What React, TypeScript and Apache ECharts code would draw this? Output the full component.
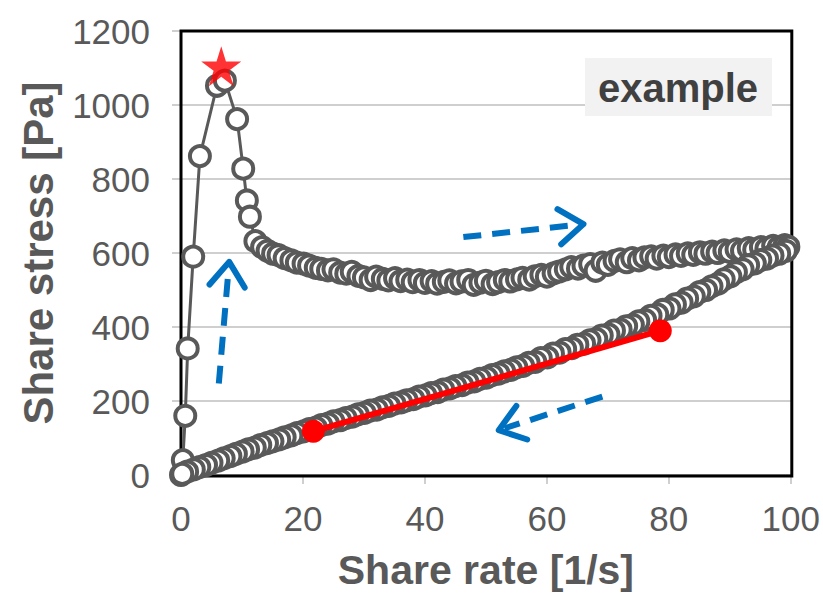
import React, { useEffect, useRef } from "react";
import * as echarts from "echarts";

// ---- data ----
const xTicks = [0, 20, 40, 60, 80, 100];
const yTicks = [0, 200, 400, 600, 800, 1000, 1200];

// upward sweep: shear rate [1/s]
const upRate = [
  0, 0.3, 0.7, 1.1, 2.0, 3.1, 5.9, 7.2, 9.2, 10.2, 10.8, 11.3, 12.2, 13.3, 14.2, 15.1,
  16.0, 17.0, 18.1, 19.0, 20.1, 21.0, 22.1, 23.0, 24.1, 25.0, 26.1, 27.1, 28.0, 29.1,
  30.0, 31.1, 32.0, 33.1, 34.0, 35.1, 36.0, 37.1, 38.0, 39.1, 40.0, 41.1, 42.0, 43.1,
  44.0, 45.1, 46.0, 47.1, 48.0, 49.1, 50.0, 51.1, 52.0, 53.1, 54.0, 55.1, 56.0, 57.1,
  58.0, 59.1, 60.0, 61.1, 62.0, 63.1, 64.0, 65.1, 66.0, 67.1, 68.0, 69.1, 70.0, 71.1,
  72.0, 73.1, 74.0, 75.1, 76.0, 77.1, 78.0, 79.1, 80.0, 81.1, 82.0, 83.1, 84.0, 85.1,
  86.0, 87.1, 88.0, 89.1, 90.0, 91.1, 92.0, 93.1, 94.0, 95.1, 96.0, 97.1, 98.0, 99.0, 99.6,
];
// upward sweep: shear stress [Pa]
const upStress = [
  0, 40, 160, 342, 590, 862, 1052, 1066, 962, 828, 742, 698, 632, 616, 606, 598,
  594, 586, 580, 574, 571, 566, 560, 557, 553, 556, 547, 544, 549, 538,
  534, 527, 536, 530, 526, 532, 524, 528, 521, 527, 519, 524, 517, 522,
  526, 518, 523, 527, 514, 520, 525, 516, 521, 527, 523, 529, 533, 528,
  537, 541, 536, 545, 550, 556, 562, 558, 566, 570, 552, 574, 568, 579,
  583, 575, 586, 580, 588, 591, 585, 593, 589, 596, 592, 599, 595, 602,
  598, 604, 600, 607, 603, 610, 606, 613, 609, 616, 612, 619, 615, 621, 617,
];

// downward sweep: shear rate [1/s]
const downRate = [
  99.2, 98.1, 97.0, 96.1, 95.0, 94.1, 93.0, 92.1, 91.0, 90.1, 89.0, 88.1, 87.0, 86.1,
  85.0, 84.1, 83.0, 82.1, 81.0, 80.1, 79.0, 78.1, 77.0, 76.1, 75.0, 74.1, 73.0, 72.1,
  71.0, 70.1, 69.0, 68.1, 67.0, 66.1, 65.0, 64.1, 63.0, 62.1, 61.0, 60.1, 59.0, 58.1,
  57.0, 56.1, 55.0, 54.1, 53.0, 52.1, 51.0, 50.1, 49.0, 48.1, 47.0, 46.1, 45.0, 44.1,
  43.0, 42.1, 41.0, 40.1, 39.0, 38.1, 37.0, 36.1, 35.0, 34.1, 33.0, 32.1, 31.0, 30.1,
  29.0, 28.1, 27.0, 26.1, 25.0, 24.1, 23.0, 22.1, 21.0, 20.1, 19.0, 18.1, 17.0, 16.1,
  15.0, 14.1, 13.0, 12.1, 11.0, 10.1, 9.0, 8.1, 7.0, 6.1, 5.0, 4.1, 3.0, 2.1, 1.0, 0.2,
];
// downward sweep: shear stress [Pa]
const downStress = [
  606, 598, 593, 585, 581, 572, 567, 556, 548, 537, 529, 517, 510, 500,
  494, 483, 477, 466, 461, 450, 446, 434, 430, 419, 415, 406, 402, 393,
  390, 380, 377, 368, 364, 355, 352, 343, 340, 331, 328, 318, 316, 306,
  303, 295, 291, 284, 280, 274, 270, 263, 260, 253, 250, 243, 240, 234,
  231, 224, 221, 215, 212, 205, 202, 196, 193, 187, 183, 177, 174, 168,
  164, 158, 154, 148, 145, 139, 135, 128, 124, 118, 113, 107, 102, 96,
  91, 86, 81, 74, 69, 63, 57, 51, 45, 39, 33, 27, 21, 15, 9, 3,
];

// red fitted segment
const fitRate = [21.7, 78.6];
const fitStress = [118, 390];

// peak marker (star)
const peakRate = [6.6];
const peakStress = [1105];

// blue dashed direction arrows: [tailRate, tailStress, tipRate, tipStress]
const arrowUp = [6.2, 247, 7.9, 576];
const arrowRight = [46.3, 643, 66.0, 678];
const arrowLeft = [69.1, 212, 52.1, 121];

const FONT = "'Liberation Sans', Arial, sans-serif";
const GRAY = "#595959";
const STAR =
  "path://M50,0 L61.2,34.5 L97.6,34.5 L68.2,55.9 L79.4,90.5 L50,69.1 L20.6,90.5 L31.8,55.9 L2.4,34.5 L38.8,34.5 Z";

export default function App() {
  const ref = useRef<HTMLDivElement>(null);

  useEffect(() => {
    if (!ref.current) return;
    const chart = echarts.init(ref.current, undefined, { renderer: "svg" });

    const loop: number[][] = [];
    upRate.forEach((x, i) => loop.push([x, upStress[i]]));
    downRate.forEach((x, i) => loop.push([x, downStress[i]]));
    const fit = fitRate.map((x, i) => [x, fitStress[i]]);
    const peak = peakRate.map((x, i) => [x, peakStress[i]]);

    chart.setOption({
      animation: false,
      backgroundColor: "#ffffff",
      textStyle: { fontFamily: FONT },
      grid: {
        left: 181,
        right: 31,
        top: 31,
        bottom: 118,
        show: false,
      },
      xAxis: {
        type: "value",
        min: xTicks[0],
        max: xTicks[xTicks.length - 1],
        interval: xTicks[1] - xTicks[0],
        name: "Share rate [1/s]",
        nameLocation: "middle",
        nameGap: 74,
        nameTextStyle: { fontSize: 41, fontWeight: "bold", color: GRAY, fontFamily: FONT },
        axisLine: { show: true, lineStyle: { color: "#BFBFBF", width: 1.5 } },
        axisTick: { show: true, inside: false, length: 9, lineStyle: { color: "#BFBFBF", width: 1.5 } },
        axisLabel: { fontSize: 35, color: GRAY, margin: 26, fontFamily: FONT },
        splitLine: { show: false },
      },
      yAxis: {
        type: "value",
        min: yTicks[0],
        max: yTicks[yTicks.length - 1],
        interval: yTicks[1] - yTicks[0],
        name: "Share stress [Pa]",
        nameLocation: "middle",
        nameGap: 122,
        nameTextStyle: { fontSize: 42, fontWeight: "bold", color: GRAY, fontFamily: FONT },
        axisLine: { show: true, lineStyle: { color: "#BFBFBF", width: 1.5 } },
        axisTick: { show: true, inside: false, length: 9, lineStyle: { color: "#BFBFBF", width: 1.5 } },
        axisLabel: {
          fontSize: 35,
          color: GRAY,
          margin: 31,
          fontFamily: FONT,
          formatter: (v: number) => String(v),
        },
        splitLine: { show: true, lineStyle: { color: "#BFBFBF", width: 1.5 } },
      },
      series: [
        {
          type: "line",
          data: loop,
          clip: false,
          symbol: "circle",
          symbolSize: 20,
          showAllSymbol: true,
          lineStyle: { color: GRAY, width: 3 },
          itemStyle: { color: "#ffffff", borderColor: GRAY, borderWidth: 4 },
          z: 2,
        },
        {
          type: "line",
          data: fit,
          clip: false,
          symbol: "circle",
          symbolSize: 23,
          lineStyle: { color: "#FF0000", width: 6 },
          itemStyle: { color: "#FF0000" },
          z: 3,
        },
        {
          type: "scatter",
          data: peak,
          clip: false,
          symbol: STAR,
          symbolSize: 40,
          itemStyle: { color: "#FF0000" },
          z: 4,
        },
      ],
    });

    const toPx = (x: number, y: number) =>
      chart.convertToPixel({ xAxisIndex: 0, yAxisIndex: 0 }, [x, y]) as number[];

    const makeArrow = (a: number[]) => {
      const t0 = toPx(a[0], a[1]);
      const t1 = toPx(a[2], a[3]);
      const dx = t1[0] - t0[0];
      const dy = t1[1] - t0[1];
      const len = Math.hypot(dx, dy);
      const ux = dx / len;
      const uy = dy / len;
      const L = 30;
      const ang = (36 * Math.PI) / 180;
      const rot = (s: number) => {
        const c = Math.cos(s * ang);
        const sn = Math.sin(s * ang);
        return [ux * c - uy * sn, ux * sn + uy * c];
      };
      const r1 = rot(1);
      const r2 = rot(-1);
      const shaftEnd = [t1[0] - ux * 6, t1[1] - uy * 6];
      return [
        {
          type: "polyline",
          z: 10,
          shape: { points: [t0, shaftEnd] },
          style: { stroke: "#0070C0", lineWidth: 6, lineDash: [18, 11], fill: null },
        },
        {
          type: "polyline",
          z: 10,
          shape: {
            points: [
              [t1[0] - r1[0] * L, t1[1] - r1[1] * L],
              t1,
              [t1[0] - r2[0] * L, t1[1] - r2[1] * L],
            ],
          },
          style: { stroke: "#0070C0", lineWidth: 6, lineCap: "round", lineJoin: "round", fill: null },
        },
      ];
    };

    const c00 = toPx(xTicks[0], yTicks[yTicks.length - 1]);
    const c11 = toPx(xTicks[xTicks.length - 1], yTicks[0]);

    chart.setOption({
      graphic: [
        {
          type: "rect",
          z: 1,
          shape: { x: c00[0], y: c00[1], width: c11[0] - c00[0] + 1, height: c11[1] - c00[1] + 1 },
          style: { fill: null, stroke: "#000000", lineWidth: 3 },
        },
        ...makeArrow(arrowUp),
        ...makeArrow(arrowRight),
        ...makeArrow(arrowLeft),
        {
          type: "rect",
          z: 10,
          shape: { x: 585, y: 58, width: 187, height: 58 },
          style: { fill: "#F2F2F2" },
        },
        {
          type: "text",
          z: 11,
          x: 678,
          y: 88,
          style: {
            text: "example",
            fontSize: 40,
            fontWeight: "bold",
            fontFamily: FONT,
            fill: "#404040",
            align: "center",
            verticalAlign: "middle",
          },
        },
      ],
    });

    return () => chart.dispose();
  }, []);

  return (
    <div
      ref={ref}
      style={{ position: "fixed", left: 0, top: 0, width: 823, height: 595, background: "#fff" }}
    />
  );
}
